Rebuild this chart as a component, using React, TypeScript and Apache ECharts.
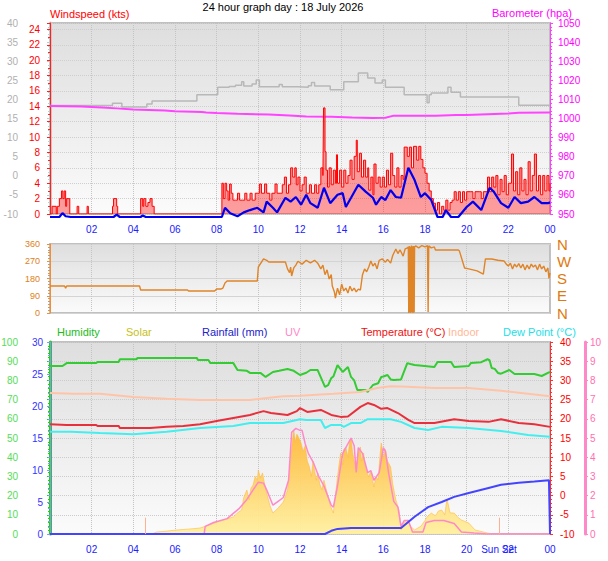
import React, { useEffect, useRef } from 'react';
import * as echarts from 'echarts';

const FONT = '"Liberation Sans", Arial, sans-serif';

const TITLE = '24 hour graph day : 18 July 2026';
const TOP_LEFT_TITLE = 'Windspeed (kts)';
const TOP_RIGHT_TITLE = 'Barometer (hpa)';
const BOTTOM_TITLES: [string, number, string][] = [
  ['Humidity', 57, '#22bb22'],
  ['Solar', 126, '#c8c020'],
  ['Rainfall (mm)', 202, '#2222cc'],
  ['UV', 285, '#ff88c8'],
  ['Temperature (°C)', 361, '#ee1111'],
  ['Indoor', 448, '#ffb898'],
  ['Dew Point (°C)', 503, '#22e0e8'],
];
const DIR_NAMES: Record<number, string> = { 0: 'N', 90: 'E', 180: 'S', 270: 'W', 360: 'N' };
const SUNRISE = 4.55;
const SUNSET = 21.55;

// time in hours, value
const gust: [number, number][] = [
  [0, 0], [0.1, 1], [0.3, 0], [0.35, 1], [0.45, 2], [0.55, 3], [0.62, 2], [0.68, 3], [0.75, 1], [0.8, 2], [0.9, 2], [0.95, 0],
  [1.3, 1], [1.38, 0], [1.78, 1], [1.84, 0], [3.0, 1], [3.05, 2], [3.2, 1], [3.25, 0],
  [4.35, 2], [4.45, 1], [4.5, 2], [4.6, 1], [4.7, 1.5], [4.8, 2], [4.9, 1], [5.0, 0],
  [8.25, 4], [8.32, 2], [8.4, 4], [8.48, 3], [8.55, 1.8], [8.62, 3.9], [8.7, 2.7], [8.78, 1.8], [8.9, 1.8], [9.0, 2.7], [9.1, 1.8],
  [9.25, 1.8], [9.35, 2.7], [9.45, 1.8], [9.6, 2.7], [9.7, 1.8], [9.85, 2.7], [9.95, 2.7], [10.05, 3.9], [10.15, 2.7], [10.3, 3.9],
  [10.4, 2.7], [10.55, 1.8], [10.65, 2.7], [10.8, 3.9], [10.9, 2.7], [11.05, 2.7], [11.15, 3.8], [11.25, 4.8], [11.35, 2.7],
  [11.45, 3.8], [11.55, 6], [11.65, 4.8], [11.75, 6], [11.82, 3.8], [11.9, 4.8], [12.0, 3], [12.1, 3.8], [12.2, 4.8], [12.3, 2.7],
  [12.45, 3.8], [12.55, 2.7], [12.7, 3.8], [12.8, 2.7], [12.9, 3.8], [13.0, 6], [13.1, 5], [13.13, 13.8], [13.2, 8.1], [13.25, 5.7],
  [13.32, 3.5], [13.4, 6], [13.5, 3.8], [13.6, 5.7], [13.7, 4], [13.75, 7.7], [13.8, 4], [13.9, 5.7], [14.0, 3.5], [14.1, 5.7],
  [14.2, 4], [14.3, 5], [14.4, 7], [14.5, 4.5], [14.6, 7.5], [14.7, 9.6], [14.75, 5.5], [14.85, 7.9], [14.95, 4.8], [15.05, 7],
  [15.15, 4.8], [15.25, 6], [15.3, 3.1], [15.4, 4.8], [15.5, 2.5], [15.55, 6.5], [15.65, 4], [15.75, 4.8], [15.85, 3.5],
  [15.95, 4.8], [16.05, 3.5], [16.15, 5.7], [16.25, 3.8], [16.35, 7.9], [16.45, 5], [16.55, 3.5], [16.65, 6], [16.75, 3.5],
  [16.85, 5], [16.95, 4.5], [17.0, 8.7], [17.15, 7.5], [17.25, 8.7], [17.35, 6], [17.45, 8.8], [17.6, 7], [17.7, 8.8], [17.8, 7.1],
  [17.9, 6], [18.0, 5.3], [18.1, 4], [18.2, 3], [18.3, 2], [18.4, 1.4], [18.5, 0.5], [18.6, 1.5], [18.7, 0], [18.8, 1], [18.9, 0.5],
  [19.0, 1.8], [19.1, 0.5], [19.2, 1.5], [19.3, 1.8], [19.4, 2.9], [19.5, 1.8], [19.6, 2.9], [19.7, 1.5], [19.8, 2.9], [19.9, 1.8],
  [20.0, 2.9], [20.2, 2.9], [20.3, 2], [20.4, 2.9], [20.6, 2.9], [20.7, 2], [20.8, 2.9], [21.0, 4.8], [21.1, 2.9], [21.2, 4.8],
  [21.3, 3.5], [21.4, 5], [21.5, 2.5], [21.6, 4.5], [21.7, 2.9], [21.8, 5], [21.9, 2.5], [22.0, 4], [22.15, 7.8], [22.25, 3],
  [22.35, 5.5], [22.45, 2.5], [22.55, 6], [22.65, 3], [22.75, 4.5], [22.85, 2.5], [22.95, 6.8], [23.05, 3], [23.15, 5], [23.25, 7.8],
  [23.35, 3], [23.45, 5], [23.55, 2.5], [23.65, 5], [23.75, 3], [23.85, 5], [23.95, 3], [24, 4],
];

const avgWind: [number, number][] = [
  [0, 0], [0.45, 0], [0.6, 0.5], [0.75, 0.1], [1.0, 0], [3.05, 0], [3.2, 0.3], [3.35, 0], [4.35, 0], [4.45, 0.2], [4.6, 0],
  [8.25, 0], [8.4, 1.2], [8.65, 0.5], [9.0, 0.1], [9.3, 0.6], [9.6, 0.9], [9.95, 1.2], [10.25, 0.6], [10.4, 2.0], [10.7, 1.2],
  [10.9, 0.6], [11.3, 2.5], [11.55, 2.0], [11.8, 2.6], [12.05, 1.6], [12.3, 2.9], [12.5, 1.8], [12.85, 1.2], [13.15, 3.8],
  [13.45, 1.8], [13.8, 2.9], [14.05, 3.1], [14.2, 1.3], [14.45, 2.5], [14.8, 4.2], [15.15, 3.3], [15.5, 2.5], [15.65, 1.6],
  [15.9, 2.6], [16.1, 2.2], [16.35, 3.5], [16.6, 2.6], [16.85, 2.5], [17.2, 6.4], [17.5, 4.8], [17.8, 2.6], [18.0, 3.1],
  [18.3, 2.2], [18.6, 0], [18.85, 0], [19.0, 0.9], [19.25, 0], [19.6, 0], [20.0, 1.3], [20.3, 2.0], [20.7, 0.9], [21.1, 3.8],
  [21.3, 3.3], [21.65, 1.8], [22.0, 1.2], [22.3, 2.6], [22.6, 1.8], [22.95, 2.0], [23.25, 2.6], [23.6, 1.8], [23.9, 1.8], [24, 1.9],
];

const grayLine: [number, number][] = [
  [0, 18.4], [3.0, 19.0], [3.45, 18.0], [4.65, 18.8], [4.9, 19.6], [7.05, 21.2], [8.05, 23.2], [8.6, 23.4], [8.9, 23.7],
  [9.2, 24.6], [9.3, 23.5], [9.7, 24.0], [9.9, 25.1], [10.05, 23.3], [11.0, 23.9], [11.15, 23.3], [11.9, 23.2], [12.4, 23.6],
  [12.55, 24.4], [12.7, 23.5], [13.45, 22.5], [14.1, 24.6], [14.8, 26.9], [15.25, 25.6], [15.6, 24.3], [15.95, 25.1],
  [16.1, 23.2], [17.0, 21.2], [18.1, 19.1], [18.2, 21.2], [18.3, 21.7], [19.1, 23.2], [19.25, 21.9], [19.7, 20.6],
  [22.5, 18.5], [24, 18.5],
];

const barometer: [number, number][] = [
  [0, 1006.5], [1.5, 1006.3], [2.5, 1005.8], [3.2, 1005.3], [4.0, 1004.7], [5.5, 1004.2], [6.0, 1003.8], [7.3, 1003.4],
  [7.5, 1003.2], [8.0, 1002.9], [9.0, 1002.5], [10.5, 1002.1], [11.5, 1001.6], [12.3, 1001.1], [13.5, 1000.9],
  [14.5, 1000.5], [15.5, 1000.3], [16.1, 1000.4], [16.5, 1001.5], [17.5, 1001.4], [18.5, 1001.5], [19.5, 1001.8],
  [20.0, 1001.8], [21.0, 1002.2], [22.0, 1002.6], [22.5, 1003.0], [24, 1003.2],
];

const direction: [number, number][] = [
  [0, 141], [0.7, 141], [0.75, 130], [0.8, 141], [4.3, 141], [4.35, 120], [6.6, 120], [6.65, 115], [7.9, 115], [8.0, 125],
  [8.2, 125], [8.3, 130], [8.4, 157], [8.5, 167], [9.95, 167], [10.0, 240], [10.25, 282], [10.4, 275], [10.5, 266], [11.3, 266],
  [11.4, 230], [11.5, 210], [11.55, 240], [11.6, 193], [11.7, 235], [11.8, 250], [11.9, 270], [12.1, 255], [12.3, 275],
  [12.5, 262], [12.7, 275], [12.85, 260], [13.0, 230], [13.1, 250], [13.2, 200], [13.3, 225], [13.4, 177], [13.5, 200],
  [13.55, 141], [13.65, 110], [13.7, 78], [13.8, 130], [13.9, 95], [14.0, 151], [14.1, 115], [14.2, 130], [14.3, 104],
  [14.4, 140], [14.5, 115], [14.6, 130], [14.7, 110], [14.8, 125], [14.9, 120], [15.0, 200], [15.1, 230], [15.2, 215],
  [15.3, 240], [15.4, 271], [15.5, 245], [15.6, 260], [15.7, 230], [15.8, 275], [15.95, 282], [16.1, 265], [16.2, 280],
  [16.35, 260], [16.45, 300], [16.6, 334], [16.7, 310], [16.8, 330], [16.95, 297], [17.05, 335], [17.15, 339], [17.2, 345],
  [17.22, 0], [17.25, 350], [17.27, 2], [17.3, 345], [17.32, 0], [17.35, 352], [17.37, 5], [17.4, 348], [17.42, 0],
  [17.45, 350], [17.48, 3], [17.5, 345], [17.55, 350], [17.7, 340], [17.85, 352], [18.0, 345], [18.12, 352], [18.15, 5],
  [18.18, 350], [18.3, 340], [18.45, 345], [18.5, 329], [19.6, 329], [19.65, 324], [19.9, 235], [20.1, 230], [20.5, 220],
  [20.8, 203], [20.9, 282], [21.2, 282], [21.5, 275], [21.8, 271], [21.9, 255], [22.0, 245], [22.1, 260], [22.2, 230],
  [22.3, 255], [22.4, 240], [22.5, 258], [22.6, 235], [22.7, 255], [22.8, 225], [22.9, 250], [23.0, 230], [23.1, 255],
  [23.2, 240], [23.3, 250], [23.4, 225], [23.5, 255], [23.6, 230], [23.7, 245], [23.8, 215], [23.9, 235], [23.95, 180], [24, 209],
];

const humidity: [number, number][] = [
  [0, 87.5], [0.6, 87.5], [0.8, 89], [2.2, 89], [2.3, 89.6], [3.3, 89.6], [3.35, 91], [4.15, 91], [4.2, 91.7], [7.05, 91.7],
  [7.1, 90.6], [7.6, 90.6], [7.7, 89], [8.8, 89], [9.0, 85.4], [9.45, 85], [9.6, 83.9], [10.1, 83.9], [10.35, 81.8], [10.7, 84.4],
  [11.0, 85], [11.4, 85.9], [11.7, 85], [12.0, 82.8], [12.3, 84], [12.5, 85.4], [12.85, 85.4], [12.9, 84], [13.2, 76.6],
  [13.35, 77.5], [13.5, 81.2], [13.6, 82], [13.8, 88], [14.05, 84.4], [14.3, 87], [14.45, 81.8], [14.6, 80], [14.75, 75],
  [15.15, 75], [15.25, 74], [15.5, 77.6], [15.75, 78.5], [15.9, 81.8], [16.0, 82], [16.2, 82.8], [16.35, 80.5], [16.5, 80.2],
  [16.85, 80.5], [17.15, 89], [17.3, 88.5], [17.5, 88], [18.45, 87], [18.6, 89.6], [19.25, 89.6], [19.4, 87], [20.1, 87.5],
  [20.2, 89], [20.7, 89.5], [21.0, 91], [21.1, 90.5], [21.2, 86.5], [21.35, 86], [21.5, 83.9], [21.65, 83.5], [22.05, 85.4],
  [22.3, 83.3], [23.25, 83.3], [23.6, 82.3], [24, 84.4],
];

const indoor: [number, number][] = [
  [0, 26.7], [0.8, 26.6], [1.1, 26.5], [2.4, 26.5], [4, 25.7], [5.6, 25.2], [7.2, 24.9], [9.6, 24.9], [10.4, 25.4],
  [11.2, 25.9], [12, 26.0], [13.6, 26.5], [14.9, 27], [15.7, 28], [16.35, 28.5], [16.85, 28.4], [18.45, 28], [20.1, 28],
  [21.65, 27.3], [24, 25.9],
];

const temperature: [number, number][] = [
  [0, 18.6], [0.8, 18.4], [2.2, 18.4], [2.3, 18.1], [3.3, 18.1], [3.35, 17.6], [4.8, 17.6], [5.6, 17.9], [6.4, 18.1],
  [7.2, 18.6], [8, 19.4], [8.8, 20.2], [9.6, 21], [10.25, 22], [10.6, 21.5], [11.4, 21], [11.85, 22], [12, 22.8],
  [12.35, 21.8], [13, 22.3], [13.5, 21], [13.95, 20.5], [14.3, 20.6], [14.9, 23.1], [15.25, 24.1], [15.55, 23.6],
  [15.9, 22.6], [16.2, 22.8], [16.7, 21.5], [17.2, 19.7], [17.5, 18.9], [18.45, 18.9], [19.4, 19.9], [20.1, 19.4],
  [21.05, 19.2], [21.65, 19.9], [22.5, 18.9], [23.25, 18.6], [24, 17.9],
];

const dewPoint: [number, number][] = [
  [0, 16.6], [1.0, 16.6], [2.4, 16.3], [4, 16.0], [5.6, 16.6], [7.2, 17.6], [8.8, 18.1], [9.6, 18.9], [11.2, 18.9],
  [12, 19.9], [12.3, 19.7], [13, 19.7], [13.2, 17.6], [13.5, 18.4], [13.95, 18.4], [14.1, 17.9], [14.45, 18.9], [14.9, 18.9],
  [15.25, 19.9], [16.35, 19.9], [16.85, 19.2], [17.5, 17.6], [18.15, 17.1], [18.8, 17.9], [20.1, 17.6], [21.65, 16.8],
  [22.95, 15.8], [24, 15.3],
];

const rainfall: [number, number][] = [
  [0, 0], [13.2, 0], [13.5, 0.5], [13.8, 0.8], [14.45, 0.95], [16.85, 0.95], [17.5, 2.7], [18.15, 4.2], [18.8, 5.0],
  [19.4, 5.8], [20.1, 6.4], [21.05, 7.2], [21.65, 7.7], [22.5, 8.0], [23.25, 8.2], [23.95, 8.4], [24, 0],
];

const uvIndex: [number, number][] = [
  [0, 0], [7.4, 0], [7.45, 0.4], [7.85, 0.6], [8.5, 0.8], [9.1, 1.35], [9.45, 1.8], [9.75, 2.3], [10.0, 2.7], [10.25, 2.65],
  [10.4, 2.3], [10.7, 1.5], [10.95, 1.7], [11.2, 1.9], [11.45, 2.8], [11.6, 5.3], [11.8, 5.5], [12.0, 5.4], [12.1, 5.4],
  [12.25, 4.7], [12.4, 4.2], [12.65, 3.7], [12.9, 3.0], [13.15, 2.5], [13.5, 1.5], [13.6, 1.4], [13.8, 2.5], [14.05, 4.2],
  [14.3, 4.7], [14.45, 5.0], [14.6, 4.6], [14.7, 3.2], [14.8, 4.5], [15.0, 4.2], [15.25, 3.2], [15.4, 3.3], [15.55, 2.8],
  [15.8, 3.2], [16.0, 4.5], [16.1, 4.3], [16.25, 3.2], [16.5, 1.7], [16.7, 1.4], [16.85, 0.4], [17.0, 0.7], [17.2, 0.7],
  [17.4, 0.1], [17.9, 0.1], [18.05, 0.6], [18.45, 0.7], [18.9, 0.7], [19.4, 0.55], [19.75, 0.1], [20.35, 0.05], [21.0, 0], [24, 0],
];

const solar: [number, number][] = [
  [0, 0], [4.9, 0], [5.1, 10], [5.6, 15], [6.1, 21], [6.6, 25], [7.2, 31], [7.6, 45], [8.0, 62], [8.4, 75], [8.8, 89], [9.0, 110],
  [9.2, 125], [9.3, 190], [9.45, 229], [9.55, 180], [9.65, 240], [9.75, 255], [9.85, 300], [9.95, 280], [10.0, 333], [10.1, 290],
  [10.2, 318], [10.3, 260], [10.4, 214], [10.55, 150], [10.7, 109], [10.95, 135], [11.2, 167], [11.4, 229], [11.5, 320],
  [11.55, 385], [11.62, 470], [11.7, 540], [11.78, 480], [11.85, 520], [11.95, 500], [12.05, 474], [12.15, 430], [12.25, 460],
  [12.35, 380], [12.45, 350], [12.55, 300], [12.62, 380], [12.7, 330], [12.78, 280], [12.85, 318], [12.95, 260], [13.05, 230],
  [13.15, 280], [13.3, 214], [13.45, 150], [13.6, 109], [13.7, 200], [13.8, 297], [13.9, 380], [13.95, 422], [14.05, 360],
  [14.1, 440], [14.2, 453], [14.3, 400], [14.38, 480], [14.45, 500], [14.52, 430], [14.6, 380], [14.7, 349], [14.8, 420],
  [14.9, 453], [14.95, 380], [15.05, 422], [15.15, 340], [15.3, 297], [15.4, 330], [15.55, 245], [15.65, 300], [15.75, 281],
  [15.85, 420], [15.9, 474], [16.0, 400], [16.1, 440], [16.2, 380], [16.35, 349], [16.45, 260], [16.6, 177], [16.75, 125],
  [16.85, 21], [17.0, 60], [17.15, 73], [17.3, 40], [17.5, 21], [17.8, 40], [18.0, 70], [18.1, 89], [18.3, 109], [18.5, 95],
  [18.65, 120], [18.8, 125], [18.95, 100], [19.05, 180], [19.1, 161], [19.2, 110], [19.4, 109], [19.6, 85], [19.75, 73],
  [20.1, 57], [20.4, 21], [21.0, 5], [21.2, 0], [24, 0],
];

const panelBg = {
  type: 'linear', x: 0, y: 0, x2: 0, y2: 1,
  colorStops: [{ offset: 0, color: '#dedede' }, { offset: 1, color: '#fbfbfb' }],
};

const gridBase = { left: 50, right: 58, show: true, backgroundColor: panelBg, borderColor: '#c0c0c0', borderWidth: 2, outerBoundsMode: 'none', containLabel: false };

const hourLabel = (v: number) => (v === 0 ? '' : String(v % 24).padStart(2, '0'));

const xAxis = (gridIndex: number, showLabel: boolean) => ({
  type: 'value', gridIndex, min: 0, max: 24, interval: 2,
  axisLine: { show: false }, axisTick: { show: false },
  axisLabel: { show: showLabel, formatter: hourLabel, color: '#2020ff', fontSize: 10, margin: 10, fontFamily: FONT },
  splitLine: { show: true, lineStyle: { color: '#c4c4c4', type: 'dotted', width: 1 } },
});

const plain = (v: number) => String(v);

const yAx = (o: any) => ({
  type: 'value',
  axisLine: { show: true, lineStyle: { color: o.color, width: o.lineWidth || 1 } },
  axisTick: { show: true, length: 3, lineStyle: { color: o.tickColor || o.color } },
  minorTick: { show: true, splitNumber: o.minor || 5, length: 2, lineStyle: { color: o.tickColor || o.color } },
  splitLine: { show: false },
  ...o.extra,
  axisLabel: { color: o.labelColor || o.color, fontSize: o.fontSize || 10, margin: o.margin, fontFamily: FONT, formatter: o.formatter || plain },
  gridIndex: o.grid, position: o.pos, offset: o.offset || 0, min: o.min, max: o.max, interval: o.interval,
});

const txt = (text: string, x: number, y: number, fill: string, align = 'left', size = 11) => ({
  type: 'text', x, y, silent: true,
  style: { text, fill, fontSize: size, fontFamily: FONT, textAlign: align, textVerticalAlign: 'middle' },
});

const line = (name: string, data: [number, number][], xi: number, yi: number, color: string, width: number, extra: any = {}) => ({
  type: 'line', name, data, xAxisIndex: xi, yAxisIndex: yi, symbol: 'none', showSymbol: false,
  lineStyle: { color, width }, itemStyle: { color }, silent: true, ...extra,
});

export default function App() {
  const ref = useRef<HTMLDivElement>(null);
  useEffect(() => {
    document.body.style.margin = '0';
    const chart = echarts.init(ref.current!, null, { renderer: 'svg' });
    const option: any = {
      animation: false,
      backgroundColor: '#ffffff',
      textStyle: { fontFamily: FONT },
      grid: [
        { ...gridBase, top: 23, height: 191 },
        { ...gridBase, top: 244, height: 69 },
        { ...gridBase, top: 342, height: 192 },
      ],
      xAxis: [xAxis(0, true), xAxis(1, false), xAxis(2, true)],
      yAxis: [
        yAx({ grid: 0, pos: 'left', offset: 26, min: -10, max: 40, interval: 5, color: '#c8c8c8', labelColor: '#b0b0b0', lineWidth: 3, margin: 6 }),
        yAx({
          grid: 0, pos: 'left', min: 0, max: 24.84, interval: 2, color: '#ff2020', labelColor: '#ff0000', margin: 10, minor: 2,
          formatter: (v: number) => (Math.abs(v % 2) < 1e-6 ? String(v) : ''),
          extra: { splitLine: { show: true, lineStyle: { color: '#cfcfcf', type: 'dotted' } } },
        }),
        { type: 'value', gridIndex: 0, min: 0.39, max: 25.23, show: false },
        yAx({ grid: 0, pos: 'right', min: 950, max: 1050, interval: 10, color: '#ff40ff', labelColor: '#ff00ff', margin: 8 }),
        yAx({
          grid: 1, pos: 'left', min: 0, max: 360, interval: 90, color: '#e89040', labelColor: '#e08020', margin: 10, fontSize: 9, minor: 6,
          extra: { splitLine: { show: true, lineStyle: { color: '#d4d4d4', type: 'solid' } } },
        }),
        {
          type: 'value', gridIndex: 1, position: 'right', min: 0, max: 360, interval: 90,
          axisLine: { show: false }, axisTick: { show: false }, splitLine: { show: false },
          axisLabel: { color: '#e07a10', fontSize: 15, margin: 7, fontFamily: FONT, formatter: (v: number) => DIR_NAMES[v] ?? '' },
        },
        yAx({
          grid: 2, pos: 'left', offset: 26, min: 0, max: 100, interval: 10, color: '#22cc22', labelColor: '#55dd55', lineWidth: 3, margin: 6,
          extra: { splitLine: { show: true, lineStyle: { color: '#cccccc', type: 'dotted' } } },
        }),
        yAx({ grid: 2, pos: 'left', min: 0, max: 30, interval: 5, color: '#9090ff', labelColor: '#3333ff', margin: 7 }),
        yAx({ grid: 2, pos: 'right', min: -10, max: 40, interval: 5, color: '#ff3030', labelColor: '#ff0000', margin: 10 }),
        yAx({ grid: 2, pos: 'right', offset: 35, min: 0, max: 10, interval: 1, color: '#ff88c8', labelColor: '#ff70b0', lineWidth: 3, margin: 5 }),
        { type: 'value', gridIndex: 2, min: 0, max: 1000, show: false },
      ],
      series: [
        line('Gray', grayLine, 0, 0, '#b8b8b8', 1.5, { step: 'end' }),
        line('Barometer', barometer, 0, 3, '#ff44ff', 2),
        line('Gust', gust, 0, 1, '#ff0000', 1, { step: 'end', areaStyle: { color: 'rgba(255,20,20,0.58)' } }),
        line('Wind', avgWind, 0, 2, '#0000ee', 2.2, { clip: false }),
        line('Direction', direction, 1, 4, '#e08428', 1.4),
        line('Solar', solar, 2, 10, '#ffbb44', 0.6, {
          areaStyle: {
            color: { type: 'linear', x: 0, y: 0, x2: 0, y2: 1, colorStops: [{ offset: 0, color: '#ffb838' }, { offset: 1, color: '#fff0a0' }] },
            opacity: 0.95,
          },
        }),
        line('Humidity', humidity, 2, 6, '#33cc33', 2),
        line('Indoor', indoor, 2, 8, '#ffc4a8', 2),
        line('Temperature', temperature, 2, 8, '#e8303c', 2),
        line('Dew Point', dewPoint, 2, 8, '#44eeee', 2),
        line('UV', uvIndex, 2, 9, '#ff88c8', 1.5, {
          markLine: {
            silent: true, symbol: 'none', animation: false,
            lineStyle: { color: '#ffb090', type: 'solid', width: 1 },
            label: { show: false },
            data: [
              [{ coord: [SUNRISE, 0] }, { coord: [SUNRISE, 0.85] }],
              [
                { coord: [SUNSET, 0], label: { show: true, position: 'start', formatter: 'Sun Set', color: '#2020ff', fontSize: 10, distance: 10, fontFamily: FONT } },
                { coord: [SUNSET, 0.85] },
              ],
            ],
          },
        }),
        line('Rainfall', rainfall, 2, 7, '#4444ff', 2),
      ],
      graphic: [
        txt(TITLE, 283, 7, '#000000', 'center', 11),
        txt(TOP_LEFT_TITLE, 50, 14, '#ff0000', 'left', 11),
        txt(TOP_RIGHT_TITLE, 572, 13, '#ff00ff', 'right', 11),
        ...BOTTOM_TITLES.map(([t, x, c]) => txt(t, x, 332, c, 'left', 11)),
      ],
    };
    chart.setOption(option);
    return () => chart.dispose();
  }, []);
  return <div ref={ref} style={{ width: 608, height: 561 }} />;
}
